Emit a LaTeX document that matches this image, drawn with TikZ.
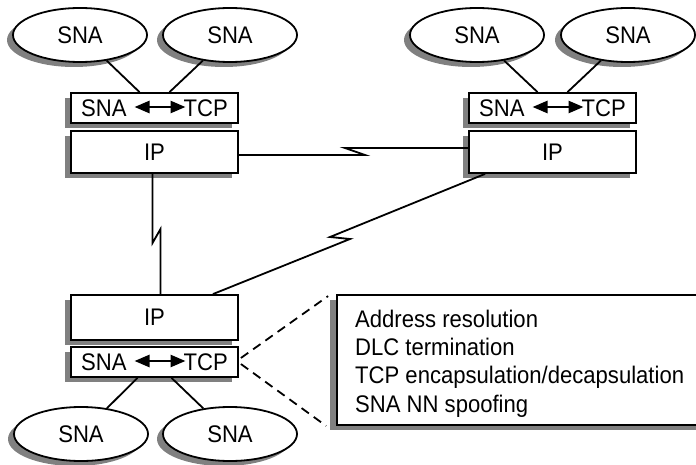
\documentclass[tikz,border=0pt]{standalone}
\usepackage{fontspec}
\setmainfont{Liberation Sans}[FakeStretch=0.92]
\usetikzlibrary{shapes.geometric,shadows,calc,arrows.meta}
\tikzset{
  lw/.style={line width=1.8pt},
  txt/.style={font=\fontsize{24}{27}\selectfont},
  shade/.style={general shadow={fill=black!50, shadow xshift=-6pt, shadow yshift=-5pt}},
  sna/.style={ellipse, draw, lw, fill=white, shade, minimum width=134pt, minimum height=54pt, inner sep=0pt, txt},
  ipbox/.style={rectangle, draw, lw, fill=white, shade, minimum width=167pt, minimum height=42pt, inner sep=0pt, txt},
  gwbox/.style={rectangle, draw, lw, fill=white, shade, minimum width=167pt, minimum height=30pt, inner sep=0pt, txt},
  infobox/.style={rectangle, draw, lw, fill=white, general shadow={fill=black!50, shadow xshift=-7pt, shadow yshift=-5pt}, inner sep=0pt},
  infotext/.style={anchor=base west, inner sep=0pt, txt},
  link/.style={lw, line join=miter},
  dbl/.style={line width=2.6pt, {Triangle[length=15pt,width=12pt]}-{Triangle[length=15pt,width=12pt]}},
  dashline/.style={lw, dash pattern=on 9pt off 6pt}
}
\begin{document}
\begin{tikzpicture}[x=1pt,y=-1pt]
\useasboundingbox (0,0) rectangle (696,465);
% top-left group
\node[sna] (e1) at (80,35) {SNA};
\node[sna] (e2) at (230,35) {SNA};
\node[gwbox] (g1) at (154.5,108) {SNA\hspace{57pt}TCP};
\node[ipbox] (ip1) at (154.5,152) {IP};
% top-right group
\node[sna] (e3) at (477,35) {SNA};
\node[sna] (e4) at (628,35) {SNA};
\node[gwbox] (g2) at (552.5,108) {SNA\hspace{57pt}TCP};
\node[ipbox] (ip2) at (552.5,152) {IP};
% bottom-left group
\node[ipbox, minimum height=45pt] (ip3) at (154.5,317.5) {IP};
\node[gwbox] (g3) at (154.5,362) {SNA\hspace{57pt}TCP};
\node[sna] (e5) at (81,434) {SNA};
\node[sna] (e6) at (230,434) {SNA};
% info box
\node[infobox, minimum width=370pt, minimum height=130pt] (info) at (522,360) {};
\node[infotext] (t1) at (355,327) {Address resolution};
\node[infotext] (t2) at (355,355) {DLC termination};
\node[infotext] (t3) at (355,383) {TCP encapsulation/decapsulation};
\node[infotext] (t4) at (355,412) {SNA NN spoofing};
% arrows inside gateway boxes
\foreach \g in {g1,g2,g3}{
  \draw[dbl] ($(\g.center)+(-20,-1)$) -- ($(\g.center)+(31,-1)$);
}
% ellipse to gateway lines
\draw[lw] ($(g1.north)+(-15,0)$) -- (e1);
\draw[lw] ($(g1.north)+(15,0)$) -- (e2);
\draw[lw] ($(g2.north)+(-15,0)$) -- (e3);
\draw[lw] ($(g2.north)+(15,0)$) -- (e4);
\draw[lw] ($(g3.south)+(-17,0)$) -- (e5);
\draw[lw] ($(g3.south)+(17,0)$) -- (e6);
% WAN links with lightning
\draw[link] ($(ip1.east)+(0,3)$) -- (365,155) -- (345,148) -- ($(ip2.west)+(0,-4)$);
\draw[link] ($(ip1.south)+(-2,0)$) -- (152.5,243) -- (160.5,229) -- ($(ip3.north)+(6,0)$);
\draw[link] ($(ip2.south west)+(17,0)$) -- (330,237) -- (350,239) -- ($(ip3.north east)+(-26,0)$);
% dashed callout
\draw[dashline] ($(g3.east)+(2,-4)$) -- ($(info.north west)+(-8,2)$);
\draw[dashline] ($(g3.east)+(2,2)$) -- ($(info.south west)+(-10,0)$);
\end{tikzpicture}
\end{document}
